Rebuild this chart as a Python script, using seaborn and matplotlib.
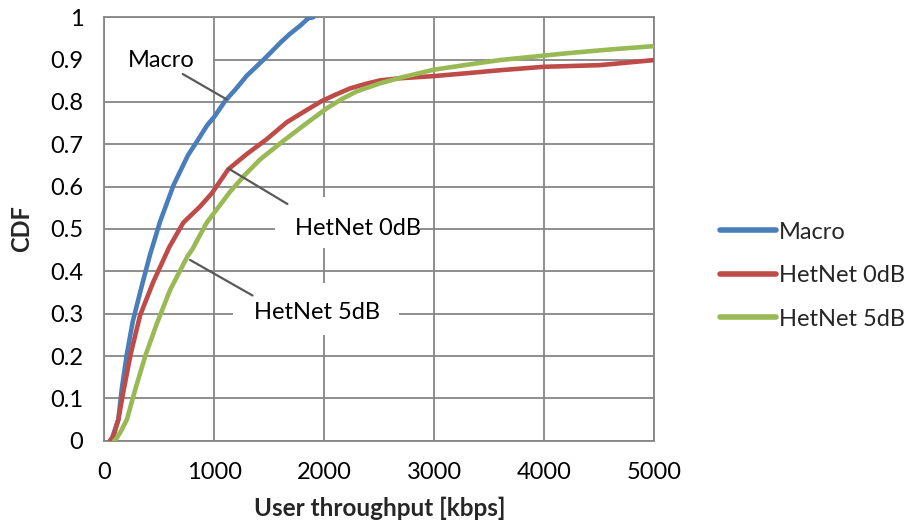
import matplotlib
matplotlib.use("Agg")
import matplotlib.pyplot as plt
from matplotlib.patches import Rectangle
import seaborn as sns
import pandas as pd

# CDF of user throughput for the three deployments
macro_x = [52, 70, 127, 160, 205, 258, 335, 415, 506, 630, 760, 840, 935, 1000, 1100, 1190, 1295, 1420, 1506,
           1600, 1688, 1780, 1855, 1900]
macro_y = [0.0, 0.006, 0.05, 0.125, 0.205, 0.281, 0.36, 0.439, 0.517, 0.604, 0.674, 0.706, 0.745, 0.765, 0.803,
           0.829, 0.862, 0.893, 0.915, 0.94, 0.961, 0.98, 0.998, 1.0]

het0_x = [52, 82, 127, 173, 240, 325, 445, 590, 718, 870, 976, 1127, 1295, 1476, 1658, 1840, 1975, 2100, 2234,
          2380, 2506, 2688, 2991, 3300, 3597, 3991, 4506, 5000]
het0_y = [0.0, 0.01, 0.049, 0.116, 0.205, 0.296, 0.375, 0.457, 0.515, 0.553, 0.584, 0.641, 0.677, 0.712, 0.752,
          0.781, 0.802, 0.817, 0.832, 0.843, 0.851, 0.856, 0.861, 0.868, 0.875, 0.883, 0.887, 0.899]

het5_x = [90, 110, 150, 205, 280, 372, 478, 598, 755, 800, 931, 1143, 1279, 1415, 1627, 1840, 2022, 2160, 2294,
          2506, 2688, 2991, 3300, 3597, 4204, 4600, 5000]
het5_y = [0.0, 0.005, 0.022, 0.05, 0.12, 0.2, 0.277, 0.356, 0.435, 0.452, 0.515, 0.588, 0.628, 0.664, 0.708, 0.75,
          0.785, 0.807, 0.825, 0.844, 0.857, 0.876, 0.888, 0.899, 0.915, 0.924, 0.932]

series_names = ["Macro", "HetNet 0dB", "HetNet 5dB"]
series_colors = ["#4A7EBB", "#BE4B48", "#98B954"]
x_ticks = [0, 1000, 2000, 3000, 4000, 5000]
y_ticks = [0, 0.1, 0.2, 0.3, 0.4, 0.5, 0.6, 0.7, 0.8, 0.9, 1]
y_tick_labels = ["0", "0.1", "0.2", "0.3", "0.4", "0.5", "0.6", "0.7", "0.8", "0.9", "1"]

frames = []
for name, xs, ys in zip(series_names, [macro_x, het0_x, het5_x], [macro_y, het0_y, het5_y]):
    frames.append(pd.DataFrame({"throughput": xs, "cdf": ys, "series": name}))
df = pd.concat(frames, ignore_index=True)

sns.set_theme(style="white")
plt.rcParams["font.family"] = ["Lato", "DejaVu Sans"]

grid_color = "#868686"
fig = plt.figure(figsize=(9.08, 5.32), dpi=100)
ax = fig.add_axes([0.1149, 0.1716, 0.6057, 0.7959])
ax.set_axisbelow(True)

sns.lineplot(data=df, x="throughput", y="cdf", hue="series", hue_order=series_names,
             palette=series_colors, estimator=None, sort=True, linewidth=3.3, ax=ax,
             legend=True, zorder=3)
for ln in ax.get_lines():
    ln.set_solid_joinstyle("round")
    ln.set_solid_capstyle("round")

ax.set_xlim(0, 5000)
ax.set_ylim(0, 1)
ax.set_xticks(x_ticks)
ax.set_xticklabels([str(t) for t in x_ticks])
ax.set_yticks(y_ticks)
ax.set_yticklabels(y_tick_labels)
ax.grid(True, color=grid_color, linewidth=1.3)
for s in ax.spines.values():
    s.set_color(grid_color)
    s.set_linewidth(1.3)
ax.tick_params(axis="both", which="major", direction="out", length=6, width=1.3, color=grid_color,
               labelsize=17, labelcolor="black")
ax.tick_params(axis="y", pad=9)
ax.tick_params(axis="x", pad=9)
ax.set_xlabel("User throughput [kbps]", fontsize=17.5, fontweight="bold", labelpad=10)
ax.set_ylabel("CDF", fontsize=17, fontweight="bold", labelpad=12)

# data-label boxes with leader lines
boxes = [(10, 0.842, 975, 0.109), (1552, 0.455, 1320, 0.121), (1170, 0.250, 1509, 0.122)]
for bx, by, bw, bh in boxes:
    ax.add_patch(Rectangle((bx, by), bw, bh, facecolor="white", edgecolor="none", zorder=2))
leaders = [((713, 0.866), (1113, 0.806)), ((1127, 0.643), (1665, 0.559)), ((779, 0.427), (1347, 0.343))]
for (x0, y0), (x1, y1) in leaders:
    ax.plot([x0, x1], [y0, y1], color="#595959", linewidth=1.6, zorder=4)
labels = [(516, 0.897, "Macro"), (2306, 0.5, "HetNet 0dB"), (1934, 0.302, "HetNet 5dB")]
for lx, ly, txt in labels:
    ax.text(lx, ly, txt, fontsize=17, ha="center", va="center", color="black", zorder=5)

handles, lbls = ax.get_legend_handles_labels()
ax.get_legend().remove()
for h in handles:
    h.set_linewidth(4)
    h.set_solid_capstyle("round")
fig.legend(handles, lbls, loc="center left", bbox_to_anchor=(0.793, 0.482), frameon=False,
           fontsize=17, handlelength=2.35, handletextpad=0.15, labelspacing=0.95,
           borderpad=0, borderaxespad=0)

fig.savefig("out.png", dpi=100)
